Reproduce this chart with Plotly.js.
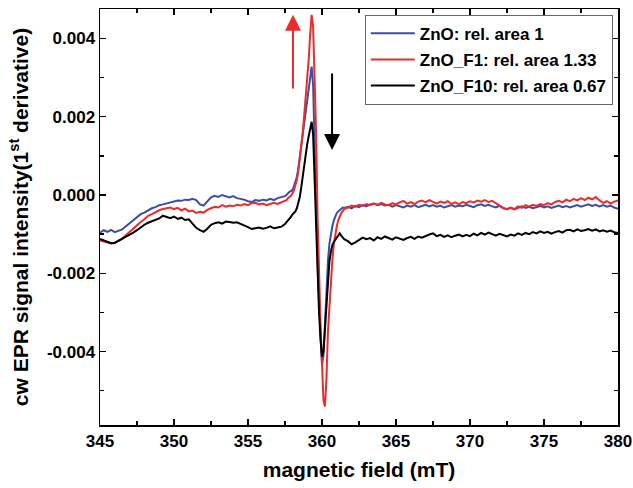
<!DOCTYPE html>
<html>
<head>
<meta charset="utf-8">
<script src="https://cdn.plot.ly/plotly-3.0.1.min.js"></script>
<style>
  html, body { margin: 0; padding: 0; background: #fff; }
  #chart { width: 633px; height: 488px; }
</style>
</head>
<body>
<div id="chart"></div>
<script>
// magnetic field (mT)
const field = [
  345, 345.25, 345.5, 345.75, 346, 346.25, 346.5, 346.75, 347, 347.25, 347.5, 347.75,
  348, 348.25, 348.5, 348.75, 349, 349.25, 349.5, 349.75, 350, 350.25, 350.5, 350.75,
  351, 351.25, 351.5, 351.75, 352, 352.25, 352.5, 352.75, 353, 353.25, 353.5, 353.75,
  354, 354.25, 354.5, 354.75, 355, 355.25, 355.5, 355.75, 356, 356.25, 356.5, 356.75,
  357, 357.25, 357.5,
  357.6, 357.7, 357.8, 357.9, 358.0, 358.1, 358.2, 358.3, 358.4, 358.5, 358.6, 358.7,
  358.8, 358.9, 359.0, 359.1, 359.2, 359.3, 359.4, 359.5, 359.6, 359.7, 359.8, 359.9,
  360.0, 360.1, 360.2, 360.3, 360.4, 360.5, 360.6, 360.7, 360.8, 360.9, 361.0, 361.1,
  361.2, 361.3, 361.4, 361.5,
  361.75, 362, 362.25, 362.5, 362.75, 363, 363.25, 363.5, 363.75, 364, 364.25, 364.5,
  364.75, 365, 365.25, 365.5, 365.75, 366, 366.25, 366.5, 366.75, 367, 367.25, 367.5,
  367.75, 368, 368.25, 368.5, 368.75, 369, 369.25, 369.5, 369.75, 370, 370.25, 370.5,
  370.75, 371, 371.25, 371.5, 371.75, 372, 372.25, 372.5, 372.75, 373, 373.25, 373.5,
  373.75, 374, 374.25, 374.5, 374.75, 375, 375.25, 375.5, 375.75, 376, 376.25, 376.5,
  376.75, 377, 377.25, 377.5, 377.75, 378, 378.25, 378.5, 378.75, 379, 379.25, 379.5,
  379.75, 380
];

// ZnO (blue)
const znO = [
  -0.00096, -0.00090, -0.00094, -0.00089, -0.00095, -0.00092, -0.00088, -0.00080, -0.00072, -0.00063, -0.00056, -0.00049,
  -0.00045, -0.00039, -0.00034, -0.00031, -0.00026, -0.00024, -0.00021, -0.00019, -0.00016, -0.00014, -0.00015, -0.00012,
  -0.00013, -0.00010, -0.00013, -0.00024, -0.00027, -0.00016, -0.00006, -0.00002, -0.00005, 0.00000, -0.00004, -0.00006,
  -0.00003, -0.00008, -0.00010, -0.00012, -0.00016, -0.00018, -0.00013, -0.00015, -0.00012, -0.00014, -0.00010, -0.00013,
  -0.00008, -0.00006, -0.00003,
  0.00000, 0.00005, 0.00008, 0.00010, 0.00013, 0.00022, 0.00034, 0.00046, 0.00068, 0.00097, 0.00128, 0.00160,
  0.00190, 0.00220, 0.00245, 0.00275, 0.00305, 0.00328, 0.00280, 0.00115, -0.00056, -0.00175, -0.00270, -0.00350,
  -0.00434, -0.00410, -0.00330, -0.00235, -0.00170, -0.00125, -0.00100, -0.00080, -0.00065, -0.00053, -0.00046, -0.00042,
  -0.00038, -0.00035, -0.00032, -0.00033,
  -0.00030, -0.00034, -0.00028, -0.00031, -0.00026, -0.00029, -0.00024, -0.00022, -0.00026, -0.00023, -0.00027, -0.00025,
  -0.00030, -0.00026, -0.00029, -0.00032, -0.00027, -0.00030, -0.00026, -0.00031, -0.00028, -0.00025, -0.00029, -0.00026,
  -0.00030, -0.00027, -0.00032, -0.00029, -0.00026, -0.00030, -0.00027, -0.00029, -0.00025, -0.00028, -0.00031, -0.00026,
  -0.00024, -0.00028, -0.00025, -0.00029, -0.00032, -0.00028, -0.00034, -0.00036, -0.00033, -0.00037, -0.00032, -0.00029,
  -0.00033, -0.00030, -0.00034, -0.00031, -0.00028, -0.00032, -0.00029, -0.00033, -0.00030, -0.00027, -0.00031, -0.00028,
  -0.00032, -0.00029, -0.00026, -0.00030, -0.00027, -0.00024, -0.00028, -0.00025, -0.00029, -0.00026, -0.00030, -0.00027,
  -0.00032, -0.00035
];

// ZnO_F1 (red)
const znOF1 = [
  -0.00116, -0.00119, -0.00122, -0.00124, -0.00123, -0.00118, -0.00112, -0.00103, -0.00094, -0.00086, -0.00078, -0.00069,
  -0.00062, -0.00053, -0.00049, -0.00043, -0.00039, -0.00036, -0.00034, -0.00032, -0.00036, -0.00033, -0.00039, -0.00035,
  -0.00042, -0.00040, -0.00046, -0.00043, -0.00045, -0.00038, -0.00034, -0.00030, -0.00032, -0.00026, -0.00030, -0.00027,
  -0.00029, -0.00025, -0.00027, -0.00023, -0.00026, -0.00021, -0.00020, -0.00024, -0.00022, -0.00026, -0.00023, -0.00020,
  -0.00023, -0.00019, -0.00014,
  -0.00013, -0.00008, -0.00005, -0.00002, 0.00004, 0.00012, 0.00025, 0.00038, 0.00060, 0.00090, 0.00125, 0.00160,
  0.00205, 0.00245, 0.00290, 0.00345, 0.00410, 0.00460, 0.00430, 0.00320, 0.00160, -0.00056, -0.00220, -0.00330,
  -0.00430, -0.00525, -0.00540, -0.00470, -0.00350, -0.00280, -0.00210, -0.00166, -0.00125, -0.00097, -0.00080, -0.00064,
  -0.00053, -0.00046, -0.00041, -0.00036,
  -0.00032, -0.00027, -0.00030, -0.00025, -0.00028, -0.00023, -0.00026, -0.00022, -0.00025, -0.00020, -0.00024, -0.00026,
  -0.00021, -0.00024, -0.00019, -0.00015, -0.00022, -0.00018, -0.00023, -0.00017, -0.00014, -0.00019, -0.00013, -0.00018,
  -0.00022, -0.00017, -0.00020, -0.00016, -0.00023, -0.00019, -0.00024, -0.00018, -0.00021, -0.00016, -0.00019, -0.00014,
  -0.00017, -0.00013, -0.00018, -0.00015, -0.00022, -0.00027, -0.00033, -0.00037, -0.00032, -0.00036, -0.00029, -0.00033,
  -0.00026, -0.00030, -0.00025, -0.00028, -0.00023, -0.00026, -0.00021, -0.00024, -0.00018, -0.00015, -0.00019, -0.00012,
  -0.00016, -0.00010, -0.00014, -0.00008, -0.00013, -0.00007, -0.00011, -0.00005, -0.00014, -0.00020, -0.00016, -0.00022,
  -0.00017, -0.00014
];

// ZnO_F10 (black)
const znOF10 = [
  -0.00112, -0.00116, -0.00119, -0.00123, -0.00122, -0.00117, -0.00113, -0.00107, -0.00101, -0.00096, -0.00090, -0.00082,
  -0.00076, -0.00071, -0.00068, -0.00064, -0.00060, -0.00053, -0.00056, -0.00059, -0.00055, -0.00061, -0.00058, -0.00064,
  -0.00062, -0.00074, -0.00084, -0.00090, -0.00094, -0.00086, -0.00076, -0.00072, -0.00070, -0.00073, -0.00068, -0.00069,
  -0.00071, -0.00070, -0.00074, -0.00076, -0.00082, -0.00087, -0.00085, -0.00083, -0.00086, -0.00084, -0.00080, -0.00085,
  -0.00083, -0.00081, -0.00074,
  -0.00070, -0.00066, -0.00060, -0.00056, -0.00050, -0.00046, -0.00042, -0.00034, -0.00020, -0.00005, 0.00020, 0.00050,
  0.00080, 0.00110, 0.00130, 0.00150, 0.00170, 0.00187, 0.00155, 0.00040, -0.00090, -0.00200, -0.00300, -0.00370,
  -0.00413, -0.00400, -0.00340, -0.00270, -0.00210, -0.00170, -0.00145, -0.00128, -0.00120, -0.00115, -0.00110, -0.00103,
  -0.00098, -0.00104, -0.00109, -0.00113,
  -0.00118, -0.00126, -0.00121, -0.00114, -0.00109, -0.00113, -0.00110, -0.00116, -0.00108, -0.00112, -0.00106, -0.00110,
  -0.00114, -0.00108, -0.00111, -0.00115, -0.00110, -0.00107, -0.00112, -0.00106, -0.00109, -0.00104, -0.00101, -0.00098,
  -0.00105, -0.00102, -0.00107, -0.00103, -0.00108, -0.00104, -0.00101, -0.00106, -0.00102, -0.00105, -0.00099, -0.00103,
  -0.00097, -0.00101, -0.00096, -0.00100, -0.00104, -0.00099, -0.00103, -0.00106, -0.00101, -0.00104, -0.00098, -0.00102,
  -0.00097, -0.00100, -0.00095, -0.00098, -0.00093, -0.00097, -0.00094, -0.00099, -0.00095, -0.00092, -0.00096, -0.00090,
  -0.00089, -0.00093, -0.00088, -0.00092, -0.00090, -0.00087, -0.00091, -0.00088, -0.00093, -0.00090, -0.00094, -0.00091,
  -0.00095, -0.00097
];

const seriesNames = ['ZnO: rel. area 1', 'ZnO_F1: rel. area 1.33', 'ZnO_F10: rel. area 0.67'];
const xTickVals = [345, 350, 355, 360, 365, 370, 375, 380];
const xTickText = ['345', '350', '355', '360', '365', '370', '375', '380'];
const yTickVals = [-0.004, -0.002, 0, 0.002, 0.004];
const yTickText = ['-0.004', '-0.002', '0.000', '0.002', '0.004'];

const FONT = 'Liberation Sans, Arial, Helvetica, sans-serif';

const traces = [
  { x: field, y: znO, name: seriesNames[0], legendgroup: 'g1', type: 'scatter', mode: 'lines',
    line: { color: '#3a4ea8', width: 2 } },
  { x: field, y: znOF1, name: seriesNames[1], legendgroup: 'g2', type: 'scatter', mode: 'lines',
    line: { color: '#ee2a2a', width: 2 } },
  { x: field, y: znOF10, name: seriesNames[2], legendgroup: 'g3', type: 'scatter', mode: 'lines',
    line: { color: '#000000', width: 2 } }
];

const axisCommon = {
  showline: true, linecolor: '#000', linewidth: 1.5, mirror: 'allticks',
  ticks: 'inside', ticklen: 6, tickwidth: 1.5, tickcolor: '#000',
  showgrid: false, zeroline: false,
  tickfont: { family: FONT, size: 17, color: '#000', weight: 'bold' }
};

const layout = {
  width: 633, height: 488,
  margin: { l: 100, r: 15, t: 9, b: 63 },
  paper_bgcolor: '#fff', plot_bgcolor: '#fff',
  font: { family: FONT, color: '#000' },
  showlegend: true,
  legend: {
    x: 0.99, xanchor: 'right', y: 0.986, yanchor: 'top',
    bordercolor: '#666', borderwidth: 1, bgcolor: '#fff',
    font: { family: FONT, size: 17, color: '#000', weight: 'bold' },
    itemwidth: 44, tracegroupgap: 1
  },
  xaxis: Object.assign({}, axisCommon, {
    range: [345, 380], tickmode: 'array', tickvals: xTickVals, ticktext: xTickText,
    minor: { tickmode: 'linear', tick0: 345, dtick: 2.5, ticks: 'inside', ticklen: 4, tickwidth: 1.5, tickcolor: '#000' },
    title: { text: 'magnetic field (mT)', standoff: 12,
      font: { family: FONT, size: 21, color: '#000', weight: 'bold' } }
  }),
  yaxis: Object.assign({}, axisCommon, {
    range: [-0.005875, 0.00475], tickmode: 'array', tickvals: yTickVals, ticktext: yTickText,
    minor: { tickmode: 'linear', tick0: 0, dtick: 0.001, ticks: 'inside', ticklen: 4, tickwidth: 1.5, tickcolor: '#000' },
    title: { text: 'cw EPR signal intensity(1<sup>st</sup> derivative)', standoff: 12,
      font: { family: FONT, size: 21, color: '#000', weight: 'bold' } }
  }),
  annotations: [
    { x: 358.04, y: 0.0046, ax: 358.04, ay: 0.00268, xref: 'x', yref: 'y', axref: 'x', ayref: 'y',
      showarrow: true, arrowhead: 2, arrowsize: 1.6, arrowwidth: 2, arrowcolor: '#ee2a2a', text: '' },
    { x: 360.68, y: 0.00115, ax: 360.68, ay: 0.00314, xref: 'x', yref: 'y', axref: 'x', ayref: 'y',
      showarrow: true, arrowhead: 2, arrowsize: 1.6, arrowwidth: 2, arrowcolor: '#000', text: '' }
  ]
};

Plotly.newPlot('chart', traces, layout, { displayModeBar: false, staticPlot: true });
</script>
</body>
</html>
